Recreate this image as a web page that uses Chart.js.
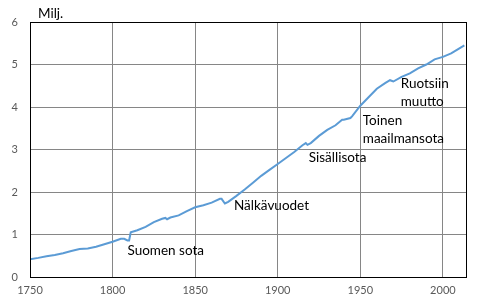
<!DOCTYPE html>
<html>
<head>
<meta charset="utf-8">
<script src="https://cdn.jsdelivr.net/npm/chart.js@4"></script>
<style>
  html, body { margin: 0; padding: 0; background: #fff; }
  #wrap { width: 491px; height: 303px; }
</style>
</head>
<body>
<div id="wrap"><canvas id="myChart" width="491" height="303"></canvas></div>
<script>
// Suomen väkiluku, miljoonaa
const years = [1750, 1755, 1760, 1765, 1770, 1775, 1780, 1785, 1790, 1795,
  1800, 1805, 1807, 1809, 1810, 1811, 1815, 1820, 1825, 1830,
  1832, 1833, 1835, 1840, 1845, 1850, 1855, 1860, 1865, 1866,
  1868, 1870, 1875, 1880, 1885, 1890, 1895, 1900, 1905, 1910,
  1915, 1917, 1918, 1920, 1925, 1930, 1935, 1939, 1940, 1944,
  1945, 1950, 1955, 1960, 1965, 1968, 1970, 1975, 1980, 1985,
  1990, 1995, 2000, 2005, 2010, 2013]
const population = [0.42, 0.45, 0.49, 0.52, 0.56, 0.61, 0.66, 0.67, 0.71, 0.77,
  0.83, 0.90, 0.90, 0.86, 0.86, 1.05, 1.10, 1.18, 1.29, 1.37,
  1.39, 1.36, 1.40, 1.45, 1.55, 1.64, 1.69, 1.75, 1.84, 1.84,
  1.73, 1.77, 1.91, 2.06, 2.22, 2.38, 2.52, 2.66, 2.80, 2.94,
  3.10, 3.15, 3.11, 3.15, 3.32, 3.46, 3.57, 3.70, 3.70, 3.74,
  3.78, 4.03, 4.23, 4.43, 4.56, 4.63, 4.60, 4.71, 4.79, 4.91,
  5.00, 5.12, 5.18, 5.26, 5.38, 5.45]

const xTicks = [1750, 1800, 1850, 1900, 1950, 2000]

const noteLines = [['Suomen sota'], ['Nälkävuodet'], ['Sisällisota'], ['Toinen', 'maailmansota'], ['Ruotsiin', 'muutto']]
const noteYears = [1809, 1873.5, 1918.8, 1951.5, 1974.5]
const noteValues = [0.61, 1.69, 2.82, 3.69, 4.56]

const unitLabel = 'Milj.'

const fontFam = 'Lato, "Open Sans", sans-serif'

const extras = {
  id: 'extras',
  afterDraw(chart) {
    const ctx = chart.ctx
    const a = chart.chartArea
    const x = chart.scales.x
    const y = chart.scales.y
    ctx.save()
    ctx.strokeStyle = '#000'
    ctx.lineWidth = 1
    ctx.strokeRect(Math.round(a.left) + 0.5, Math.round(a.top) + 0.5, Math.round(a.right - a.left), Math.round(a.bottom - a.top))
    ctx.fillStyle = '#000'
    ctx.font = '13.5px ' + fontFam
    ctx.textBaseline = 'middle'
    ctx.textAlign = 'left'
    ctx.fillText(unitLabel, 38, 14)
    for (let i = 0; i < noteLines.length; i++) {
      const px = x.getPixelForValue(noteYears[i])
      const py = y.getPixelForValue(noteValues[i])
      noteLines[i].forEach((t, j) => ctx.fillText(t, px, py + j * 18))
    }
    ctx.restore()
  }
}

new Chart(document.getElementById('myChart'), {
  type: 'line',
  data: {
    datasets: [{
      data: years.map((yr, i) => ({ x: yr, y: population[i] })),
      borderColor: '#5B9BD5',
      borderWidth: 2,
      pointRadius: 0,
      tension: 0,
      fill: false
    }]
  },
  options: {
    responsive: false,
    animation: false,
    layout: { padding: { top: 22, right: 25, left: 0, bottom: 0 } },
    plugins: { legend: { display: false }, tooltip: { enabled: false } },
    scales: {
      x: {
        type: 'linear',
        min: 1750,
        max: 2014,
        afterBuildTicks: s => { s.ticks = xTicks.map(v => ({ value: v })) },
        afterFit: s => { s.height = 26 },
        ticks: { autoSkip: false, color: '#595959', font: { family: fontFam, size: 11 }, padding: 7, maxRotation: 0, callback: v => String(v) },
        grid: { color: '#868686', drawTicks: false },
        border: { display: false }
      },
      y: {
        min: 0,
        max: 6,
        afterFit: s => { s.width = 30 },
        ticks: { stepSize: 1, color: '#595959', font: { family: fontFam, size: 11 }, padding: 12 },
        grid: { color: '#868686', drawTicks: false },
        border: { display: false }
      }
    }
  },
  plugins: [extras]
})
</script>
</body>
</html>
